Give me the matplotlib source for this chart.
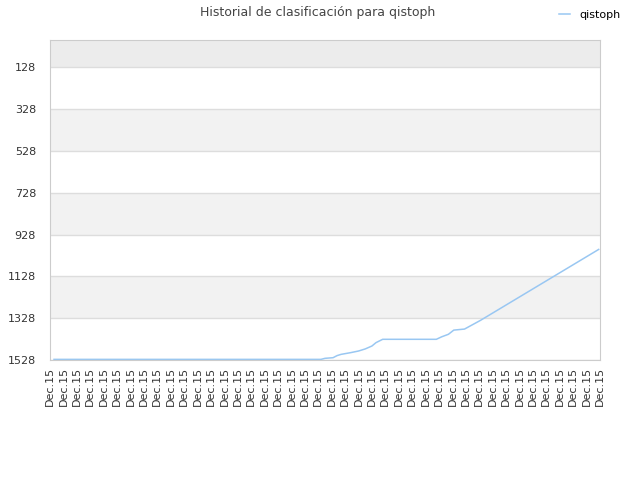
import numpy as np
import matplotlib.pyplot as plt

# Datos (posicion en el eje x en unidades de tick, puesto)
x_pos = [0.3, 20.2, 20.5, 21.1, 21.4, 21.7, 22.4, 23.0, 23.5, 24.0, 24.3, 24.8,
         28.8, 29.2, 29.7, 30.1, 30.9, 31.3, 32.1, 40.9]
puesto = [1525, 1525, 1520, 1517, 1507, 1501, 1493, 1485, 1475, 1461, 1445, 1429,
          1429, 1417, 1405, 1385, 1380, 1366, 1338, 999]
etiquetas = ["Dec.15"] * 42
y_ticks = [128, 328, 528, 728, 928, 1128, 1328, 1528]

fig = plt.figure(figsize=(6.4, 4.8), dpi=100)
ax = fig.add_axes([50/640, 120/480, 550/640, 320/480])

# Bandas alternadas de fondo
ax.axhspan(-3, 128, color='#ececec', zorder=0, lw=0)
for i in range(len(y_ticks) - 1):
    if i % 2 == 1:
        ax.axhspan(y_ticks[i], y_ticks[i+1], color='#f2f2f2', zorder=0, lw=0)
for t in y_ticks:
    ax.axhline(t, color='#dddddd', linewidth=1, zorder=1)

ax.plot(x_pos, puesto, color='#99c7f2', linewidth=1.1, label='qistoph', zorder=2)

ax.set_ylim(1528, -3)
ax.set_xlim(0, 41)
ax.set_yticks(y_ticks)
ax.set_xticks(range(len(etiquetas)))
ax.set_xticklabels(etiquetas, rotation=90, fontsize=8, color='#333333')
ax.tick_params(axis='y', labelsize=8, labelcolor='#333333', length=0, pad=10)
ax.tick_params(axis='x', length=0, pad=5)
for s in ax.spines.values():
    s.set_color('#cccccc')

fig.text(0.497, 0.973, "Historial de clasificación para qistoph", ha='center', va='center',
         fontsize=9, color='#444444')
fig.legend(loc='center right', bbox_to_anchor=(0.985, 0.968), frameon=False, fontsize=8,
           handlelength=1.0, handletextpad=0.8)

fig.savefig('out.png', dpi=100)
